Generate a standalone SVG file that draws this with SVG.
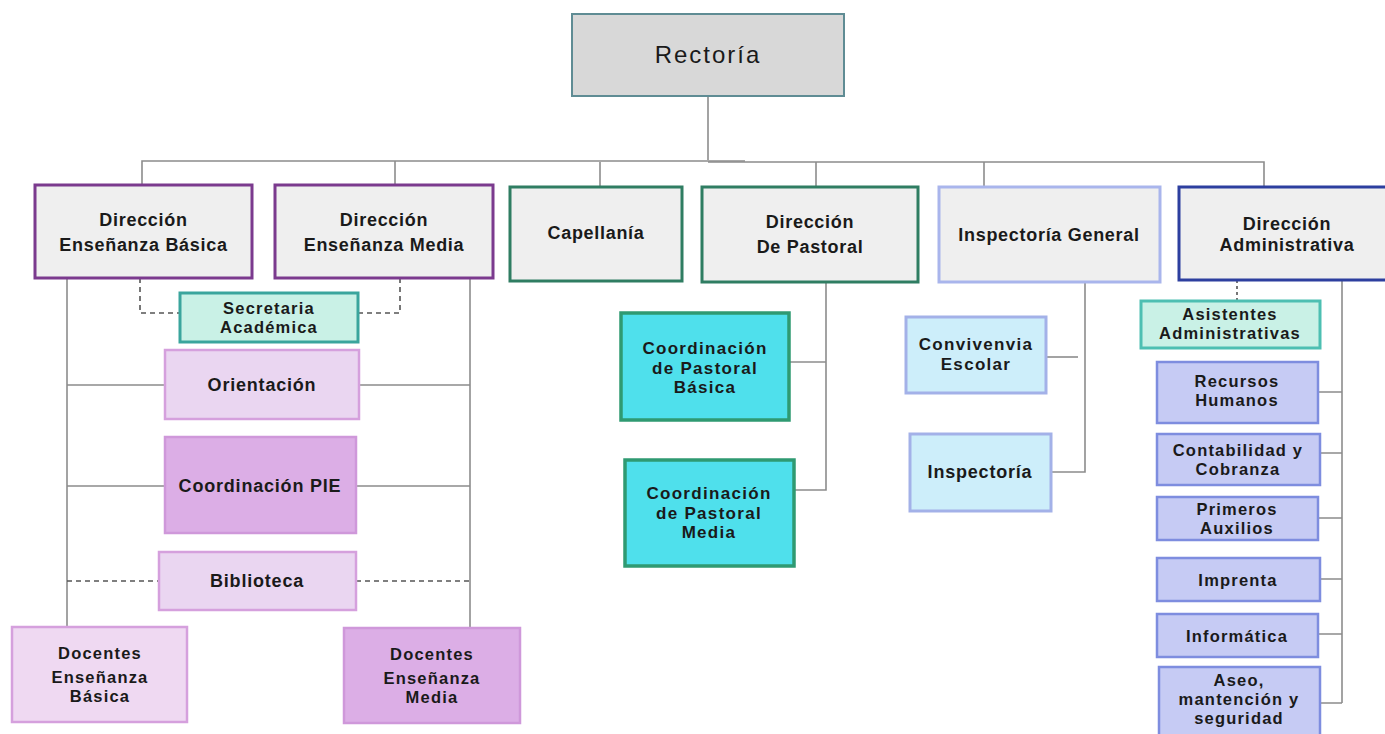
<svg xmlns="http://www.w3.org/2000/svg" width="1385" height="734" viewBox="0 0 1385 734">
<style>
text{font-family:"Liberation Sans",Arial,sans-serif;font-weight:bold;fill:#1a1a1a;text-anchor:middle}
.t17{font-size:18px;letter-spacing:0.7px}
.t16{font-size:18px;letter-spacing:0.8px}
.t16m{font-size:17px;letter-spacing:1.3px}
.t15{font-size:16.5px;letter-spacing:1.2px}
.con{fill:none;stroke:#8c8c8c;stroke-width:1.6}
.dash{fill:none;stroke:#555;stroke-width:1.6;stroke-dasharray:5 4}
.top{fill:#efefef;stroke-width:3}
.purple{stroke:#7b3a8e}
.green{stroke:#2f7d62}
.insp{stroke:#a9b5ec}
.adm{stroke:#2d3f9f}
.mint{fill:#c9f1e6;stroke:#3aa59d;stroke-width:3}
.lilac{fill:#ead6f1;stroke:#d5a0dd;stroke-width:2.5}
.pink{fill:#dcaee6;stroke:#cf98da;stroke-width:2.5}
.cyan{fill:#4fe0ec;stroke:#2f9a72;stroke-width:3.5}
.lblue{fill:#cdeefa;stroke:#a3b1e8;stroke-width:3}
.lav{fill:#c6cbf4;stroke:#7e8ddf;stroke-width:2.5}
</style>
<rect width="1385" height="734" fill="#ffffff"/>
<g id="connectors">
<path class="con" d="M708,96 V160"/>
<path class="con" d="M142,185 V161 H745"/>
<path class="con" d="M708,162 H1264 V187"/>
<path class="con" d="M395,161 V185"/>
<path class="con" d="M600,162 V187"/>
<path class="con" d="M816,162 V187"/>
<path class="con" d="M984,162 V187"/>
<path class="con" d="M67,278 V627"/>
<path class="con" d="M470,278 V628"/>
<path class="con" d="M67,385 H165 M359,385 H470"/>
<path class="con" d="M67,486 H165 M356,486 H470"/>
<path class="dash" d="M67,581 H159 M356,581 H470"/>
<path class="dash" d="M140,278 V313 H180"/>
<path class="dash" d="M400,278 V313 H358"/>
<path class="con" d="M826,282 V490 H794"/>
<path class="con" d="M826,362 H789"/>
<path class="con" d="M1085,282 V472 H1051"/>
<path class="con" d="M1078,357 H1046"/>
<path class="dash" d="M1237,280 V301" style="stroke-dasharray:3 3"/>
<path class="con" d="M1342,280 V703"/>
<path class="con" d="M1318,392 H1342 M1320,453 H1342 M1318,518 H1342 M1320,579 H1342 M1318,634 H1342 M1320,703 H1342"/>
</g>
<g id="rectoria">
<rect x="572" y="14" width="272" height="82" fill="#d8d8d8" stroke="#5f8c94" stroke-width="2"/>
<text x="708" y="63" style="font-size:24px;font-weight:normal;letter-spacing:2px">Rectoría</text>
</g>
<g id="dir-basica">
<rect class="top purple" x="35" y="185" width="217" height="93"/>
<text class="t17" x="143.5" y="226">Dirección</text>
<text class="t17" x="143.5" y="251">Enseñanza Básica</text>
</g>
<g id="dir-media">
<rect class="top purple" x="275" y="185" width="218" height="93"/>
<text class="t17" x="384" y="226">Dirección</text>
<text class="t17" x="384" y="251">Enseñanza Media</text>
</g>
<g id="capellania">
<rect class="top green" x="510" y="187" width="172" height="94"/>
<text class="t17" x="596" y="239">Capellanía</text>
</g>
<g id="dir-pastoral">
<rect class="top green" x="702" y="187" width="216" height="95"/>
<text class="t17" x="810" y="228">Dirección</text>
<text class="t17" x="810" y="253">De Pastoral</text>
</g>
<g id="insp-general">
<rect class="top insp" x="939" y="187" width="221" height="95"/>
<text class="t17" x="1049" y="241">Inspectoría General</text>
</g>
<g id="dir-admin">
<rect class="top adm" x="1179" y="187" width="215" height="93"/>
<text class="t17" x="1287" y="230">Dirección</text>
<text class="t17" x="1287" y="251">Administrativa</text>
</g>
<g id="secretaria">
<rect class="mint" x="180" y="293" width="178" height="49"/>
<text class="t15" x="269" y="314">Secretaria</text>
<text class="t15" x="269" y="333">Académica</text>
</g>
<g id="orientacion">
<rect class="lilac" x="165" y="350" width="194" height="69"/>
<text class="t16" x="262" y="391">Orientación</text>
</g>
<g id="pie">
<rect class="pink" x="165" y="437" width="191" height="96"/>
<text class="t16" x="260" y="492">Coordinación PIE</text>
</g>
<g id="biblioteca">
<rect class="lilac" x="159" y="552" width="197" height="58"/>
<text class="t16" x="257" y="587">Biblioteca</text>
</g>
<g id="docentes-basica">
<rect class="lilac" x="12" y="627" width="175" height="95" style="fill:#efd9f2"/>
<text class="t15" x="100" y="659">Docentes</text>
<text class="t15" x="100" y="683">Enseñanza</text>
<text class="t15" x="100" y="702">Básica</text>
</g>
<g id="docentes-media">
<rect class="pink" x="344" y="628" width="176" height="95"/>
<text class="t15" x="432" y="660">Docentes</text>
<text class="t15" x="432" y="684">Enseñanza</text>
<text class="t15" x="432" y="703">Media</text>
</g>
<g id="coord-pastoral-basica">
<rect class="cyan" x="621" y="313" width="168" height="107"/>
<text class="t16m" x="705" y="354">Coordinación</text>
<text class="t16m" x="705" y="373.5">de Pastoral</text>
<text class="t16m" x="705" y="393">Básica</text>
</g>
<g id="coord-pastoral-media">
<rect class="cyan" x="625" y="460" width="169" height="106"/>
<text class="t16m" x="709" y="499">Coordinación</text>
<text class="t16m" x="709" y="518.5">de Pastoral</text>
<text class="t16m" x="709" y="538">Media</text>
</g>
<g id="convivencia">
<rect class="lblue" x="906" y="317" width="140" height="76"/>
<text class="t16m" x="976" y="350">Convivenvia</text>
<text class="t16m" x="976" y="369.5">Escolar</text>
</g>
<g id="inspectoria">
<rect class="lblue" x="910" y="434" width="141" height="77"/>
<text class="t16" x="980" y="478">Inspectoría</text>
</g>
<g id="asistentes">
<rect class="mint" x="1141" y="301" width="179" height="47" style="stroke:#4dbfb2"/>
<text class="t15" x="1230" y="320">Asistentes</text>
<text class="t15" x="1230" y="339">Administrativas</text>
</g>
<g id="rrhh">
<rect class="lav" x="1157" y="362" width="161" height="61"/>
<text class="t15" x="1237" y="387">Recursos</text>
<text class="t15" x="1237" y="406">Humanos</text>
</g>
<g id="contabilidad">
<rect class="lav" x="1157" y="434" width="163" height="51"/>
<text class="t15" x="1238" y="456">Contabilidad y</text>
<text class="t15" x="1238" y="475">Cobranza</text>
</g>
<g id="primeros-auxilios">
<rect class="lav" x="1157" y="497" width="161" height="43"/>
<text class="t15" x="1237" y="515">Primeros</text>
<text class="t15" x="1237" y="534">Auxilios</text>
</g>
<g id="imprenta">
<rect class="lav" x="1157" y="558" width="163" height="43"/>
<text class="t15" x="1238" y="586">Imprenta</text>
</g>
<g id="informatica">
<rect class="lav" x="1157" y="614" width="161" height="43"/>
<text class="t15" x="1237" y="642">Informática</text>
</g>
<g id="aseo">
<rect class="lav" x="1159" y="667" width="161" height="80"/>
<text class="t15" x="1239" y="686">Aseo,</text>
<text class="t15" x="1239" y="705">mantención y</text>
<text class="t15" x="1239" y="724">seguridad</text>
</g>
</svg>
